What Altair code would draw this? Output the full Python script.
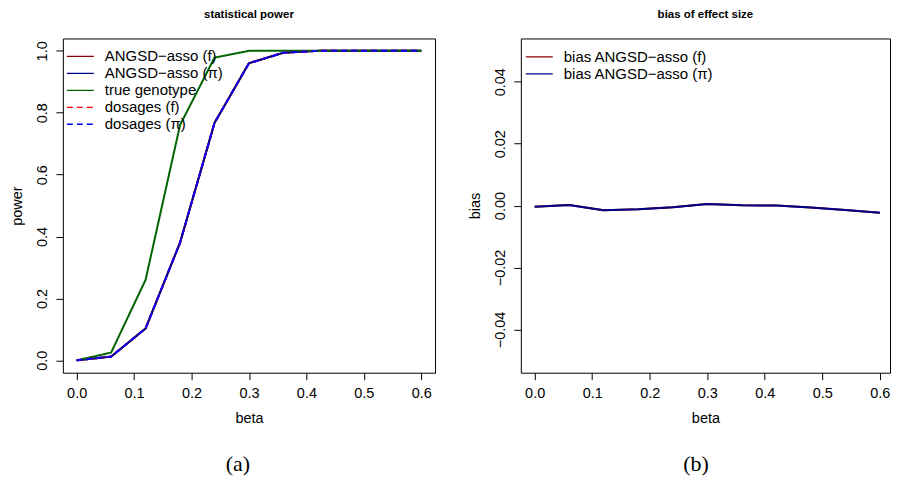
import altair as alt
import pandas as pd

# ---------------- data ----------------
beta = [0.0, 0.06, 0.12, 0.18, 0.24, 0.30, 0.36, 0.42, 0.48, 0.54, 0.60]

power_angsd_f = [0.0, 0.012, 0.103, 0.38, 0.767, 0.960, 0.994, 1.0, 1.0, 1.0, 1.0]
power_angsd_pi = [0.0, 0.012, 0.103, 0.38, 0.767, 0.960, 0.994, 1.0, 1.0, 1.0, 1.0]
power_true = [0.0, 0.025, 0.26, 0.76, 0.978, 1.0, 1.0, 1.0, 1.0, 1.0, 1.0]
power_dos_f = [0.0, 0.012, 0.103, 0.38, 0.767, 0.960, 0.994, 1.0, 1.0, 1.0, 1.0]
power_dos_pi = [0.0, 0.012, 0.103, 0.38, 0.767, 0.960, 0.994, 1.0, 1.0, 1.0, 1.0]

bias_f = [-0.0004, 0.0002, -0.0015, -0.0012, -0.0005, 0.0005, 0.0001, 0.0, -0.0006, -0.0014, -0.0023]
bias_pi = [-0.0004, 0.0002, -0.0015, -0.0012, -0.0005, 0.0005, 0.0001, 0.0, -0.0006, -0.0014, -0.0023]

power_series = ["ANGSD\u2212asso (f)", "ANGSD\u2212asso (\u03c0)", "true genotype",
                "dosages (f)", "dosages (\u03c0)"]
power_colors = ["#8B0000", "#00008B", "#006400", "#FF0000", "#0000FF"]
power_dashes = [[1, 0], [1, 0], [1, 0], [6, 4], [6, 4]]

bias_series = ["bias ANGSD\u2212asso (f)", "bias ANGSD\u2212asso (\u03c0)"]
bias_colors = ["#8B0000", "#00008B"]

x_ticks = [0.0, 0.1, 0.2, 0.3, 0.4, 0.5, 0.6]
power_ticks = [0.0, 0.2, 0.4, 0.6, 0.8, 1.0]
bias_ticks = [-0.04, -0.02, 0.0, 0.02, 0.04]

captions = ["(a)", "(b)"]

# ---------------- tables ----------------
power_rows = []
for name, vals in zip(power_series, [power_angsd_f, power_angsd_pi, power_true, power_dos_f, power_dos_pi]):
    for b, v in zip(beta, vals):
        power_rows.append({"beta": b, "value": v, "series": name})
power_df = pd.DataFrame(power_rows)

bias_rows = []
for name, vals in zip(bias_series, [bias_f, bias_pi]):
    for b, v in zip(beta, vals):
        bias_rows.append({"beta": b, "value": v, "series": name})
bias_df = pd.DataFrame(bias_rows)

FONT = "Liberation Sans"
W_L, W_R, H = 373, 370, 335


def x_enc(maxdom):
    return alt.X("beta:Q",
                 scale=alt.Scale(domain=[-0.024, maxdom], nice=False, zero=False),
                 axis=alt.Axis(values=x_ticks, format=".1f", title="beta",
                               domain=False, grid=False, tickSize=7, tickColor="black",
                               labelBaseline="alphabetic", labelPadding=18,
                               labelFontSize=14.5, labelFont=FONT, labelColor="black",
                               titleFontSize=14.5, titleFont=FONT, titleFontWeight="normal",
                               titleColor="black", titleBaseline="alphabetic", titleY=49.5))


def y_enc(title, dom, ticks, fmt):
    return alt.Y("value:Q",
                 scale=alt.Scale(domain=dom, nice=False, zero=False),
                 axis=alt.Axis(values=ticks, format=fmt, title=title,
                               domain=False, grid=False, tickSize=7, tickColor="black",
                               labelAngle=270, labelAlign="center", labelBaseline="alphabetic",
                               labelPadding=9, labelFontSize=14.5, labelFont=FONT,
                               labelColor="black",
                               titleFontSize=14.5, titleFont=FONT, titleFontWeight="normal",
                               titleColor="black", titleAngle=270, titleAlign="center",
                               titleBaseline="alphabetic", titleX=-41, titleY=H / 2))


def legend(lx, ly):
    return alt.Legend(orient="none", legendX=lx, legendY=ly, title=None,
                      symbolType="stroke", symbolSize=729, symbolStrokeWidth=1.3,
                      labelFontSize=15, labelFont=FONT, labelColor="black",
                      labelOffset=10, clipHeight=17, rowPadding=0, padding=0)


def caption_layer(txt):
    return alt.Chart(pd.DataFrame({"caption": [txt]})).mark_text(
        font="Liberation Serif", fontSize=22, baseline="middle", align="center", color="black"
    ).encode(x=alt.value(175.5), y=alt.value(427), text="caption:N")


def panel_title(txt):
    return alt.TitleParams(txt, fontSize=11.5, fontWeight="bold", font=FONT,
                           anchor="middle", baseline="alphabetic", offset=9.5, color="black")


# ---------------- left panel ----------------
left_layers = []
for s in power_series:
    left_layers.append(
        alt.Chart(power_df).transform_filter(alt.datum.series == s).mark_line(strokeWidth=2).encode(
            x=x_enc(0.624),
            y=y_enc("power", [-0.04, 1.04], power_ticks, ".1f"),
            color=alt.Color("series:N", scale=alt.Scale(domain=power_series, range=power_colors),
                            legend=legend(3, 9.5)),
            strokeDash=alt.StrokeDash("series:N",
                                      scale=alt.Scale(domain=power_series, range=power_dashes),
                                      legend=legend(3, 9.5)),
        )
    )
left = alt.layer(*left_layers, caption_layer(captions[0])).properties(
    width=W_L, height=H, title=panel_title("statistical power"))

# ---------------- right panel ----------------
right_layers = []
for s in bias_series:
    right_layers.append(
        alt.Chart(bias_df).transform_filter(alt.datum.series == s).mark_line(strokeWidth=2).encode(
            x=x_enc(0.6177),
            y=y_enc("bias", [-0.054, 0.054], bias_ticks, ".2f"),
            color=alt.Color("series:N", scale=alt.Scale(domain=bias_series, range=bias_colors),
                            legend=legend(4, 10)),
        )
    )
right = alt.layer(*right_layers, caption_layer(captions[1])).properties(
    width=W_R, height=H, title=panel_title("bias of effect size"))

chart = alt.hconcat(left, right, spacing=86, bounds="flush").resolve_scale(
    color="independent", strokeDash="independent", x="independent", y="independent"
).properties(
    padding={"left": 1, "top": -1, "right": 0, "bottom": 0},
    background="white",
).configure_view(
    stroke="black", strokeWidth=1
)

chart.save("out.html", embed_options={"renderer": "svg", "actions": False})
